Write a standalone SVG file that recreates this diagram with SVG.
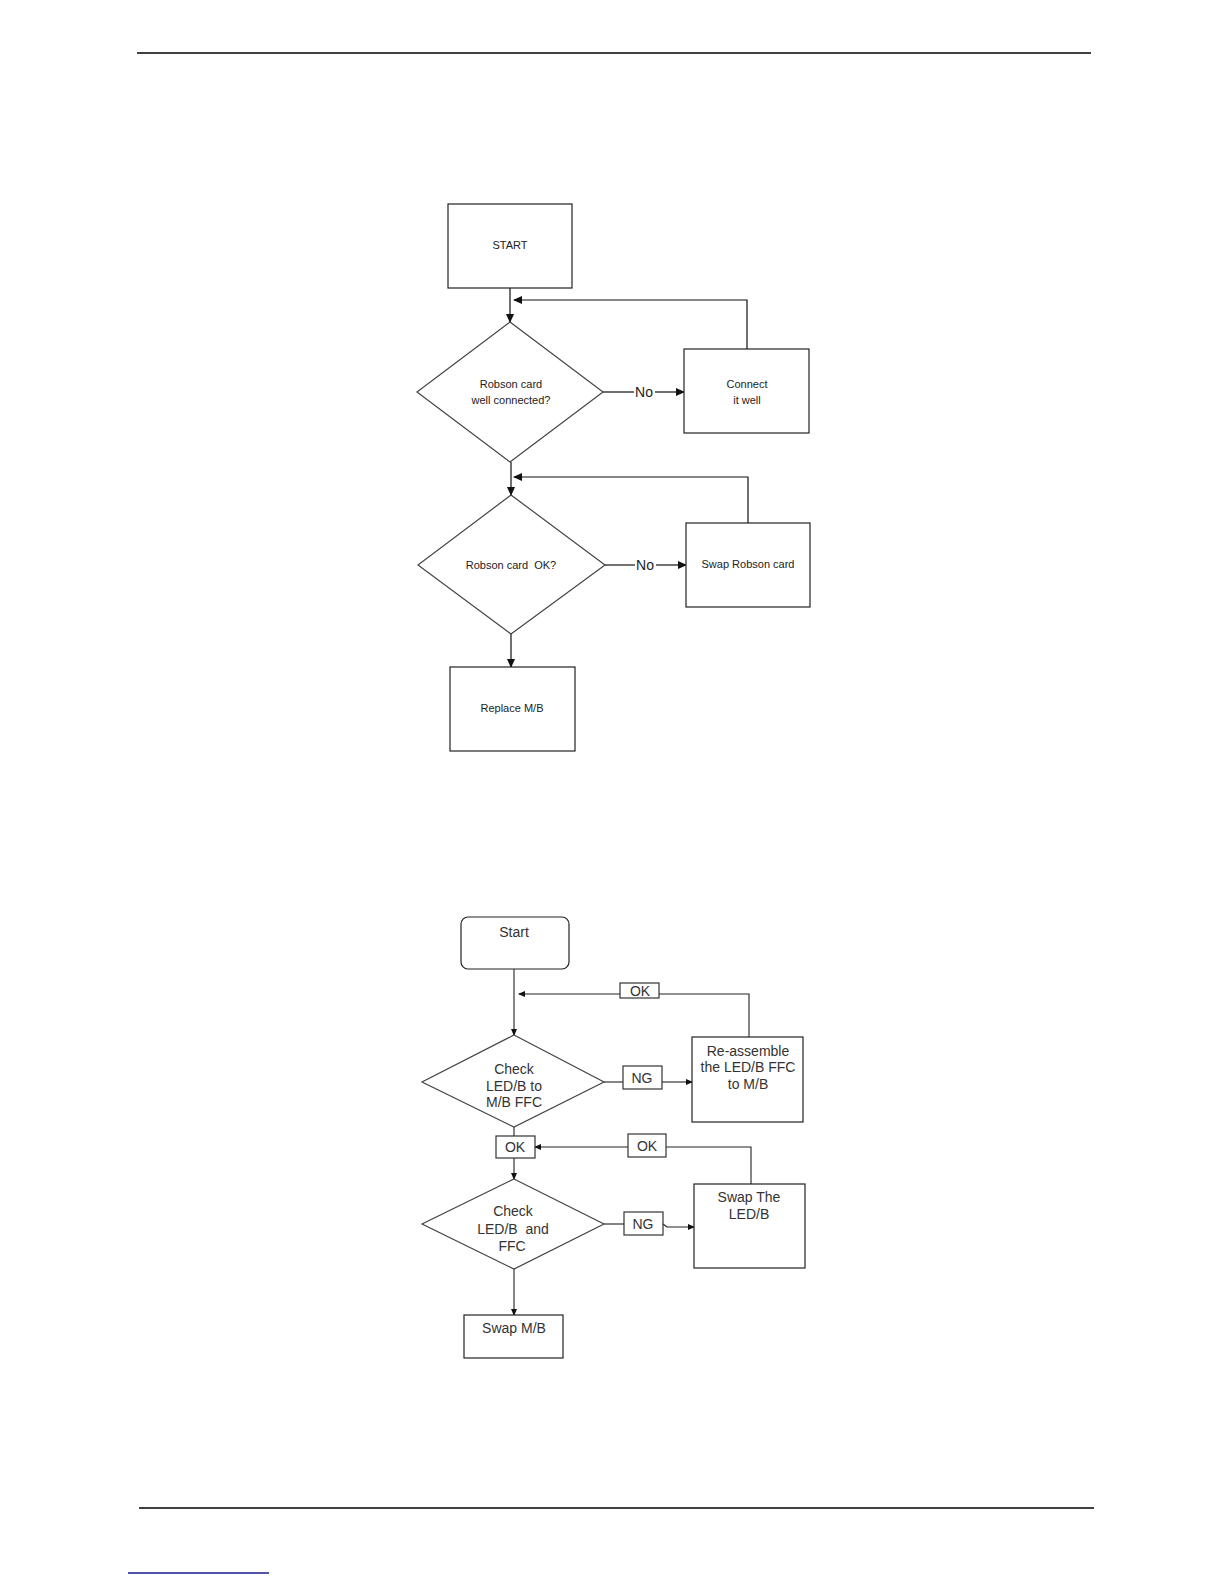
<svg xmlns="http://www.w3.org/2000/svg" width="1224" height="1584" viewBox="0 0 1224 1584">
<style>
.box{fill:#fff;stroke:#222;stroke-width:1.2}
.dia{fill:#fff;stroke:#444;stroke-width:1.2}
.lbl{fill:#fff;stroke:#333;stroke-width:1.2}
.t1{font-family:"Liberation Sans",Arial,sans-serif;font-size:11px;fill:#222;text-anchor:middle;white-space:pre}
.no{font-family:"Liberation Sans",Arial,sans-serif;font-size:14px;fill:#222;text-anchor:middle}
.t2{font-family:"Liberation Sans",Arial,sans-serif;font-size:14px;fill:#333;text-anchor:middle;white-space:pre}
.c1{fill:none;stroke:#111;stroke-width:1.2}
.c2{fill:none;stroke:#222;stroke-width:1.1}
.rule{stroke:#000;stroke-width:1.5}
</style>
<defs>
<marker id="a1" markerWidth="9" markerHeight="8" refX="8" refY="4" orient="auto" markerUnits="userSpaceOnUse"><path d="M0,0 L9,4 L0,8 Z" fill="#111"/></marker>
<marker id="a2" markerWidth="7" markerHeight="6" refX="6" refY="3" orient="auto" markerUnits="userSpaceOnUse"><path d="M0,0 L7,3 L0,6 Z" fill="#111"/></marker>
</defs>
<rect width="1224" height="1584" fill="#fff"/>
<line class="rule" x1="137" y1="53" x2="1091" y2="53"/>
<line class="rule" x1="139" y1="1508" x2="1094" y2="1508"/>
<line x1="128" y1="1573" x2="269" y2="1573" stroke="#1a1a8c" stroke-width="1.5"/>

<g id="connectors">
<line class="c1" x1="510" y1="288" x2="510" y2="322" marker-end="url(#a1)"/>
<polyline class="c1" points="747,349 747,300 514,300" marker-end="url(#a1)"/>
<line class="c1" x1="603" y1="392" x2="634" y2="392"/>
<line class="c1" x1="655" y1="392" x2="684" y2="392" marker-end="url(#a1)"/>
<line class="c1" x1="511" y1="462" x2="511" y2="495" marker-end="url(#a1)"/>
<polyline class="c1" points="748,523 748,477 514,477" marker-end="url(#a1)"/>
<line class="c1" x1="605" y1="565" x2="635" y2="565"/>
<line class="c1" x1="656" y1="565" x2="686" y2="565" marker-end="url(#a1)"/>
<line class="c1" x1="511" y1="634" x2="511" y2="667" marker-end="url(#a1)"/>

<line class="c2" x1="514" y1="969" x2="514" y2="1035" marker-end="url(#a2)"/>
<polyline class="c2" points="749,1037 749,994 659,994"/>
<line class="c2" x1="620" y1="994" x2="519" y2="994" marker-end="url(#a2)"/>
<line class="c2" x1="604" y1="1082" x2="623" y2="1082"/>
<line class="c2" x1="662" y1="1082" x2="692" y2="1082" marker-end="url(#a2)"/>
<line class="c2" x1="514" y1="1127" x2="514" y2="1136"/>
<line class="c2" x1="514" y1="1158" x2="514" y2="1179" marker-end="url(#a2)"/>
<polyline class="c2" points="751,1184 751,1147 666,1147"/>
<line class="c2" x1="628" y1="1147" x2="535" y2="1147" marker-end="url(#a2)"/>
<line class="c2" x1="604" y1="1224" x2="624" y2="1224"/>
<polyline class="c2" points="663,1224 667,1227 694,1227" marker-end="url(#a2)"/>
<line class="c2" x1="514" y1="1269" x2="514" y2="1315" marker-end="url(#a2)"/>
</g>

<g id="start1"><rect class="box" x="448" y="204" width="124" height="84"/><text class="t1" x="510" y="249">START</text></g>
<g id="dec1"><polygon class="dia" points="510,322 603,392 510,462 417,392"/><text class="t1" x="511" y="388">Robson card</text><text class="t1" x="511" y="404">well connected?</text></g>
<g id="no1"><text class="no" x="644" y="397">No</text></g>
<g id="connect"><rect class="box" x="684" y="349" width="125" height="84"/><text class="t1" x="747" y="388">Connect</text><text class="t1" x="747" y="404">it well</text></g>
<g id="dec2"><polygon class="dia" points="511,495 605,565 511,634 418,565"/><text class="t1" x="511" y="569" xml:space="preserve">Robson card  OK?</text></g>
<g id="no2"><text class="no" x="645" y="570">No</text></g>
<g id="swaprobson"><rect class="box" x="686" y="523" width="124" height="84"/><text class="t1" x="748" y="568">Swap Robson card</text></g>
<g id="replace"><rect class="box" x="450" y="667" width="125" height="84"/><text class="t1" x="512" y="712">Replace M/B</text></g>

<g id="start2"><rect class="box" x="461" y="917" width="108" height="52" rx="7"/><text class="t2" x="514" y="937">Start</text></g>
<g id="ok1"><rect class="lbl" x="620" y="983" width="39" height="15"/><text class="t2" x="640" y="996">OK</text></g>
<g id="dec3"><polygon class="dia" points="514,1035 604,1082 514,1127 422,1082"/><text class="t2" x="514" y="1074">Check</text><text class="t2" x="514" y="1091">LED/B to</text><text class="t2" x="514" y="1107">M/B FFC</text></g>
<g id="ng1"><rect class="lbl" x="623" y="1066" width="39" height="23"/><text class="t2" x="642" y="1083">NG</text></g>
<g id="reassemble"><rect class="box" x="692" y="1037" width="111" height="85"/><text class="t2" x="748" y="1056">Re-assemble</text><text class="t2" x="748" y="1072">the LED/B FFC</text><text class="t2" x="748" y="1089">to M/B</text></g>
<g id="ok2"><rect class="lbl" x="496" y="1136" width="39" height="22"/><text class="t2" x="515" y="1152">OK</text></g>
<g id="ok3"><rect class="lbl" x="628" y="1134" width="38" height="23"/><text class="t2" x="647" y="1151">OK</text></g>
<g id="dec4"><polygon class="dia" points="514,1179 604,1224 514,1269 422,1224"/><text class="t2" x="513" y="1216">Check</text><text class="t2" x="513" y="1234" xml:space="preserve">LED/B  and</text><text class="t2" x="512" y="1251">FFC</text></g>
<g id="ng2"><rect class="lbl" x="624" y="1212" width="39" height="23"/><text class="t2" x="643" y="1229">NG</text></g>
<g id="swapled"><rect class="box" x="694" y="1184" width="111" height="84"/><text class="t2" x="749" y="1202">Swap The</text><text class="t2" x="749" y="1219">LED/B</text></g>
<g id="swapmb"><rect class="box" x="464" y="1315" width="99" height="43"/><text class="t2" x="514" y="1333">Swap M/B</text></g>
</svg>
